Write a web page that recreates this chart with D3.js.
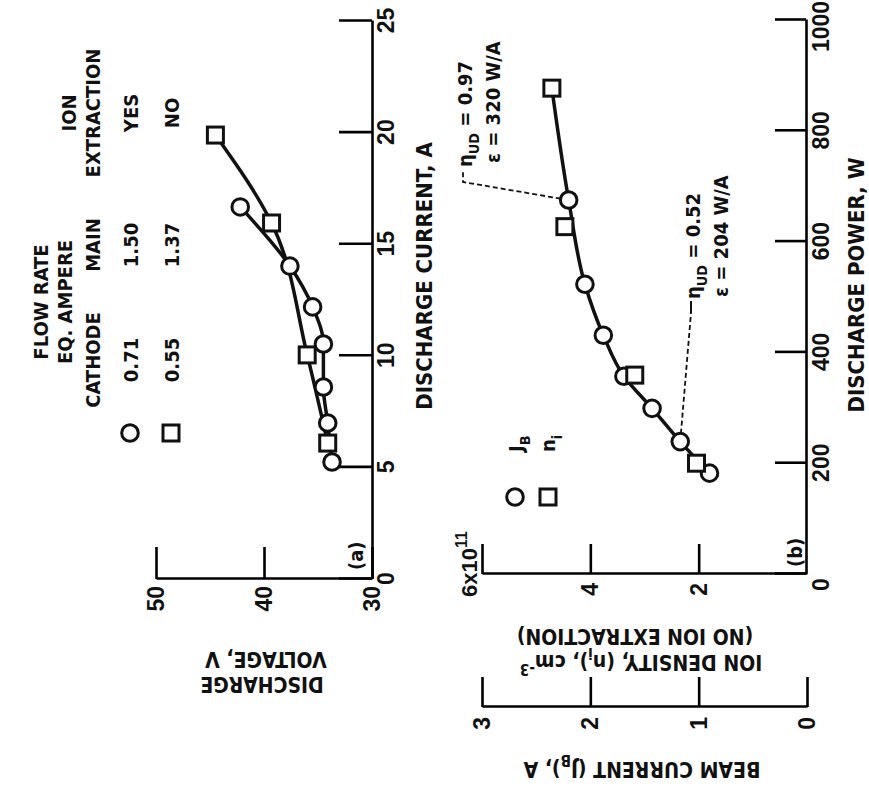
<!DOCTYPE html>
<html>
<head>
<meta charset="utf-8">
<script src="https://cdn.jsdelivr.net/npm/d3@7"></script>
<style>
body { margin: 0; background: #fff; }
text { font-family: "Liberation Sans Narrow", "DejaVu Sans Condensed", "Liberation Sans", sans-serif; font-weight: bold; fill: #111; }
.num text, text.num { font-family: "Liberation Sans", sans-serif; }
</style>
</head>
<body>
<svg id="chart"></svg>
<script>
// ----------------------------------------
// DATA

// (a) discharge voltage vs discharge current
var currentYes = [5.24, 6.99, 8.6, 10.53, 12.19, 14.02, 16.67];
var voltageYes = [33.7, 34.1, 34.5, 34.5, 35.5, 37.6, 42.2];
var currentNo = [6.09, 10.04, 15.95, 19.89];
var voltageNo = [34.1, 36.0, 39.3, 44.5];

// legend rows of (a)
var cathodeFlow = [0.71, 0.55];
var mainFlow = [1.50, 1.37];
var extraction = ["YES", "NO"];

// (b) beam current (circles) and ion density (squares) vs discharge power
var powerBeam = [182, 239, 299, 357, 431, 523, 675];
var beamCurrent = [0.90, 1.17, 1.43, 1.69, 1.88, 2.05, 2.20];
var powerDensity = [200, 359, 627, 877];
var ionDensity = [2.04, 3.18, 4.47, 4.71];

// ticks
var currentTicks = [0, 5, 10, 15, 20, 25];
var voltageTicks = [30, 40, 50];
var powerTicks = [0, 200, 400, 600, 800, 1000];
var densityTicks = [2, 4, 6];
var beamTicks = [0, 1, 2, 3];

// ----------------------------------------
// SETUP

var W = 869, H = 789;
var svg = d3.select("#chart").attr("width", W).attr("height", H);

// the figure is printed a quarter turn round: draw it upright, then turn it
var g = svg.append("g").attr("transform", "translate(0," + H + ") rotate(-90)");

// scales (upright frame: x runs 0..789, y runs 0..869)
var xA = d3.scaleLinear().domain([0, 25]).range([210, 768]);
var yA = d3.scaleLinear().domain([30, 50]).range([372, 156]);
var xB = d3.scaleLinear().domain([0, 1000]).range([215, 769]);
var yN = d3.scaleLinear().domain([0, 6]).range([807, 482]);
var yJ = d3.scaleLinear().domain([0, 3]).range([807, 482]);
var beamAxisX = 82;
var fmt = d3.format("d");

function styleAxis(sel) {
	sel.attr("font-size", 23).attr("class", "num");
	sel.select(".domain").attr("stroke-width", 2.6);
	sel.selectAll(".tick line").attr("stroke-width", 2.6);
}

// text with sub / superscript parts: [string, 0 | "sub" | "sup"]
function label(parent, x, y, parts, size, anchor, rot) {
	var t = parent.append("text")
		.attr("transform", "translate(" + x + "," + y + ")" + (rot ? " rotate(" + rot + ")" : ""))
		.attr("font-size", size)
		.attr("text-anchor", anchor || "start");
	var shift = 0;
	parts.forEach(function (p) {
		var s = p[1] === "sub" ? size * 0.35 : p[1] === "sup" ? -size * 0.45 : 0;
		t.append("tspan")
			.attr("dy", s - shift)
			.attr("font-size", p[1] ? size * 0.72 : size)
			.text(p[0]);
		shift = s;
	});
	return t;
}

function circles(parent, pts) {
	parent.selectAll(null).data(pts).enter().append("circle")
		.attr("cx", function (d) { return d[0]; })
		.attr("cy", function (d) { return d[1]; })
		.attr("r", 8.3)
		.attr("fill", "#fff").attr("stroke", "#111").attr("stroke-width", 3);
}

function squares(parent, pts) {
	parent.selectAll(null).data(pts).enter().append("rect")
		.attr("x", function (d) { return d[0] - 8; })
		.attr("y", function (d) { return d[1] - 8; })
		.attr("width", 16).attr("height", 16)
		.attr("fill", "#fff").attr("stroke", "#111").attr("stroke-width", 3);
}

var line = d3.line().curve(d3.curveMonotoneX);

// ----------------------------------------
// PANEL (a)

g.append("g").attr("transform", "translate(0,372)")
	.call(d3.axisBottom(xA).tickValues(currentTicks).tickFormat(fmt).tickSize(-33).tickSizeOuter(0).tickPadding(6))
	.call(styleAxis);
g.append("g").attr("transform", "translate(210,0)")
	.call(d3.axisLeft(yA).tickValues(voltageTicks).tickFormat(fmt).tickSize(-32).tickSizeOuter(0).tickPadding(7))
	.call(styleAxis);

label(g, 513, 432, [["DISCHARGE CURRENT, A"]], 22, "middle");
label(g, 112, 262, [["DISCHARGE"]], 21, "middle", -90);
label(g, 137, 266, [["VOLTAGE, V"]], 21, "middle", -90);
label(g, 219, 363, [["(a)"]], 20);

var ptsYes = d3.zip(currentYes, voltageYes).map(function (d) { return [xA(d[0]), yA(d[1])]; });
var ptsNo = d3.zip(currentNo, voltageNo).map(function (d) { return [xA(d[0]), yA(d[1])]; });

g.append("path").attr("d", line(ptsNo)).attr("fill", "none").attr("stroke", "#111").attr("stroke-width", 3.5);
g.append("path").attr("d", line(ptsYes)).attr("fill", "none").attr("stroke", "#111").attr("stroke-width", 3.5);
circles(g, ptsYes);
squares(g, ptsNo);

// legend of (a)
var rowY = [130, 171];
label(g, 487, 48, [["FLOW RATE"]], 20, "middle");
label(g, 487, 72, [["EQ. AMPERE"]], 20, "middle");
label(g, 429, 100, [["CATHODE"]], 20, "middle");
label(g, 544, 100, [["MAIN"]], 20, "middle");
label(g, 676, 76, [["ION"]], 20, "middle");
label(g, 676, 100, [["EXTRACTION"]], 20, "middle");
circles(g, [[356, rowY[0]]]);
squares(g, [[356, rowY[1]]]);
rowY.forEach(function (y, i) {
	label(g, 429, y + 8, [[cathodeFlow[i].toFixed(2)]], 20, "middle");
	label(g, 544, y + 8, [[mainFlow[i].toFixed(2)]], 20, "middle");
	label(g, 676, y + 8, [[extraction[i]]], 20, "middle");
});

// ----------------------------------------
// PANEL (b)

var powerAxis = g.append("g").attr("transform", "translate(0,806)")
	.call(d3.axisBottom(xB).tickValues(powerTicks).tickFormat(fmt).tickSize(-31).tickSizeOuter(0).tickPadding(7))
	.call(styleAxis);
// end labels sit a little inside their ticks
powerAxis.selectAll(".tick text").attr("x", function (d) { return d === 0 ? -11 : d === 1000 ? -7 : 0; });

g.append("g").attr("transform", "translate(215,0)")
	.call(d3.axisLeft(yN).tickValues(densityTicks).tickSize(-30).tickSizeOuter(0).tickPadding(9)
		.tickFormat(function (d) { return d === 6 ? "" : fmt(d); }))
	.call(styleAxis);
g.append("g").attr("transform", "translate(" + beamAxisX + ",0)")
	.call(d3.axisLeft(yJ).tickValues(beamTicks).tickFormat(fmt).tickSize(-30).tickSizeOuter(0).tickPadding(10))
	.call(styleAxis);

label(g, 192, 477, [["6x10"], ["11", "sup"]], 22).attr("class", "num");
label(g, 504, 864, [["DISCHARGE POWER, W"]], 22, "middle");
label(g, 134, 641, [["ION DENSITY, (n"], ["i", "sub"], ["), cm"], ["-3", "sup"]], 21, "middle", -90);
label(g, 160, 635, [["(NO ION EXTRACTION)"]], 21, "middle", -90);
label(g, 27, 642, [["BEAM CURRENT (J"], ["B", "sub"], ["), A"]], 21, "middle", -90);
label(g, 222, 802, [["(b)"]], 20);

var ptsBeam = d3.zip(powerBeam, beamCurrent).map(function (d) { return [xB(d[0]), yJ(d[1])]; });
var ptsDensity = d3.zip(powerDensity, ionDensity).map(function (d) { return [xB(d[0]), yN(d[1])]; });
// one faired curve: beam points, then the ion-density tail above them
var lastBeam = d3.max(powerBeam);
var ptsCurve = ptsBeam.concat(ptsDensity.filter(function (d, i) { return powerDensity[i] > lastBeam; }));
g.append("path").attr("d", line(ptsCurve)).attr("fill", "none").attr("stroke", "#111").attr("stroke-width", 3.5);

// leader lines to the efficiency notes
var pHigh = ptsBeam[ptsBeam.length - 1], pLow = ptsBeam[1];
g.append("path").attr("d", "M" + pHigh[0] + "," + pHigh[1] + "L607,463L617,463")
	.attr("fill", "none").attr("stroke", "#111").attr("stroke-width", 1.8).attr("stroke-dasharray", "5,3");
g.append("path").attr("d", "M" + pLow[0] + "," + pLow[1] + "L476,691")
	.attr("fill", "none").attr("stroke", "#111").attr("stroke-width", 1.8).attr("stroke-dasharray", "5,3");
g.append("path").attr("d", "M476,691L488,691").attr("stroke", "#111").attr("stroke-width", 2);

circles(g, ptsBeam);
squares(g, ptsDensity);

label(g, 622, 472, [["\u03b7"], ["UD", "sub"], [" = 0.97"]], 20);
label(g, 626, 500, [["\u03b5 = 320 W/A"]], 20);
label(g, 490, 700, [["\u03b7"], ["UD", "sub"], [" = 0.52"]], 20);
label(g, 492, 728, [["\u03b5 = 204 W/A"]], 20);

// legend of (b)
circles(g, [[292, 515]]);
squares(g, [[292, 548]]);
label(g, 337, 523, [["J"], ["B", "sub"]], 20);
label(g, 337, 555, [["n"], ["i", "sub"]], 20);
</script>
</body>
</html>
